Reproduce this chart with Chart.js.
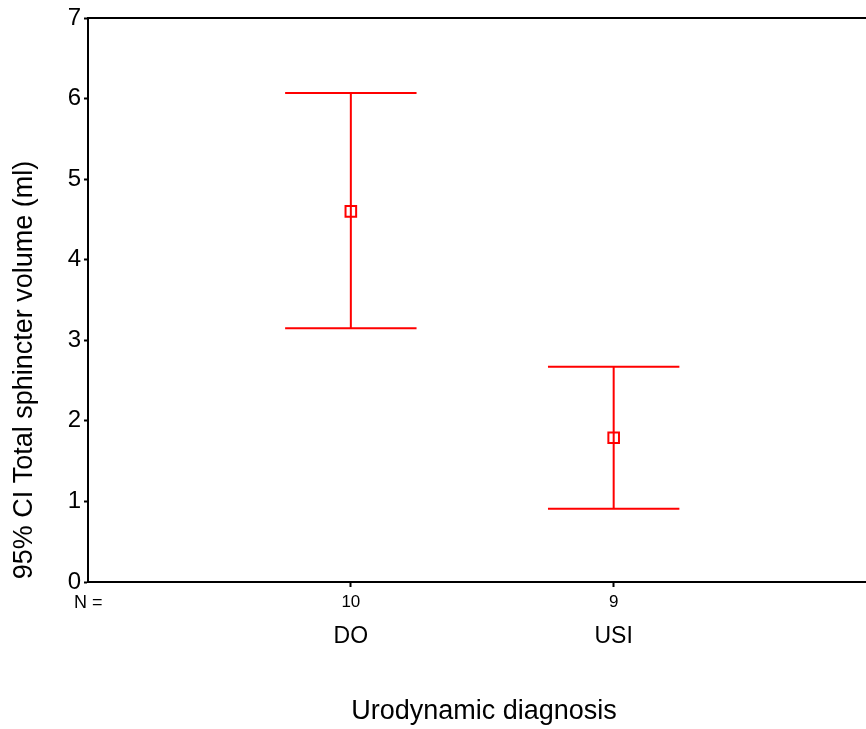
<!DOCTYPE html>
<html>
<head>
<meta charset="utf-8">
<script src="https://cdn.jsdelivr.net/npm/chart.js@4.4.1/dist/chart.umd.min.js"></script>
<style>
  html, body { margin: 0; padding: 0; background: #fff; }
  #wrap { width: 866px; height: 729px; }
</style>
</head>
<body>
<div id="wrap"><canvas id="c" width="866" height="729"></canvas></div>
<script>
// data
const categories = ['DO', 'USI'];
const nCounts = [10, 9];
const means = [4.60, 1.79];
const lowerCI = [3.15, 0.91];
const upperCI = [6.07, 2.67];
const yTickValues = [0, 1, 2, 3, 4, 5, 6, 7];

const FONT = '"Liberation Sans", Arial, sans-serif';
const RED = '#ff0000';
const CAP = 0.25; // half width of the whisker caps, in x units

// error bars + text that sits outside the axes
const errorBars = {
  id: 'errorBars',
  beforeDatasetsDraw(chart) {
    const { ctx, scales: { x, y } } = chart;
    ctx.save();
    ctx.strokeStyle = RED;
    ctx.lineWidth = 2;
    categories.forEach((c, i) => {
      const px = x.getPixelForValue(i + 1);
      const top = y.getPixelForValue(upperCI[i]);
      const bot = y.getPixelForValue(lowerCI[i]);
      const l = x.getPixelForValue(i + 1 - CAP);
      const r = x.getPixelForValue(i + 1 + CAP);
      ctx.beginPath();
      ctx.moveTo(px, top); ctx.lineTo(px, bot);
      ctx.moveTo(l, top); ctx.lineTo(r, top);
      ctx.moveTo(l, bot); ctx.lineTo(r, bot);
      ctx.stroke();
    });
    ctx.restore();
  },
  afterDraw(chart) {
    const { ctx, chartArea, scales: { x } } = chart;
    ctx.save();
    // top frame line
    ctx.strokeStyle = '#000';
    ctx.lineWidth = 2;
    ctx.beginPath();
    ctx.moveTo(chartArea.left, chartArea.top);
    ctx.lineTo(chart.width, chartArea.top);
    ctx.stroke();

    ctx.fillStyle = '#000';
    ctx.textBaseline = 'middle';
    ctx.textAlign = 'left';
    ctx.font = '18px ' + FONT;
    ctx.fillText('N =', 74, 603);

    ctx.textAlign = 'center';
    ctx.font = '23px ' + FONT;
    categories.forEach((c, i) => {
      ctx.fillText(c, x.getPixelForValue(i + 1), 637);
    });

    ctx.font = '27px ' + FONT;
    ctx.fillText('Urodynamic diagnosis', 484, 712);

    ctx.translate(25, 370);
    ctx.rotate(-Math.PI / 2);
    ctx.fillText('95% CI Total sphincter volume (ml)', 0, 0);
    ctx.restore();
  }
};

new Chart(document.getElementById('c'), {
  type: 'scatter',
  data: {
    datasets: [{
      data: means.map((m, i) => ({ x: i + 1, y: m })),
      pointStyle: 'rect',
      pointRadius: 7.5,
      pointBorderWidth: 2,
      pointBorderColor: RED,
      pointBackgroundColor: 'rgba(0,0,0,0)',
      showLine: false
    }]
  },
  options: {
    responsive: false,
    animation: false,
    devicePixelRatio: 1,
    layout: { autoPadding: false, padding: { top: 18, right: 0, left: 0, bottom: 0 } },
    plugins: { legend: { display: false }, tooltip: { enabled: false } },
    scales: {
      x: {
        type: 'linear',
        min: 0,
        max: 2.96,
        afterFit: s => { s.height = 147; },
        afterBuildTicks: s => { s.ticks = categories.map((c, i) => ({ value: i + 1 })); },
        grid: { drawOnChartArea: false, drawTicks: true, tickLength: 5, color: '#000', tickWidth: 2 },
        border: { color: '#000', width: 2 },
        ticks: {
          color: '#000',
          font: { family: FONT, size: 17 },
          padding: 5,
          maxRotation: 0,
          callback: v => {
            const i = Math.round(v) - 1;
            return nCounts[i] !== undefined ? String(nCounts[i]) : '';
          }
        }
      },
      y: {
        min: 0,
        max: 7,
        afterFit: s => { s.width = 88; },
        afterBuildTicks: s => { s.ticks = yTickValues.map(v => ({ value: v })); },
        grid: { drawOnChartArea: false, drawTicks: true, tickLength: 4, color: '#000', tickWidth: 2 },
        border: { color: '#000', width: 2 },
        ticks: {
          color: '#000',
          font: { family: FONT, size: 24 },
          padding: 3
        }
      }
    }
  },
  plugins: [errorBars]
});
</script>
</body>
</html>
